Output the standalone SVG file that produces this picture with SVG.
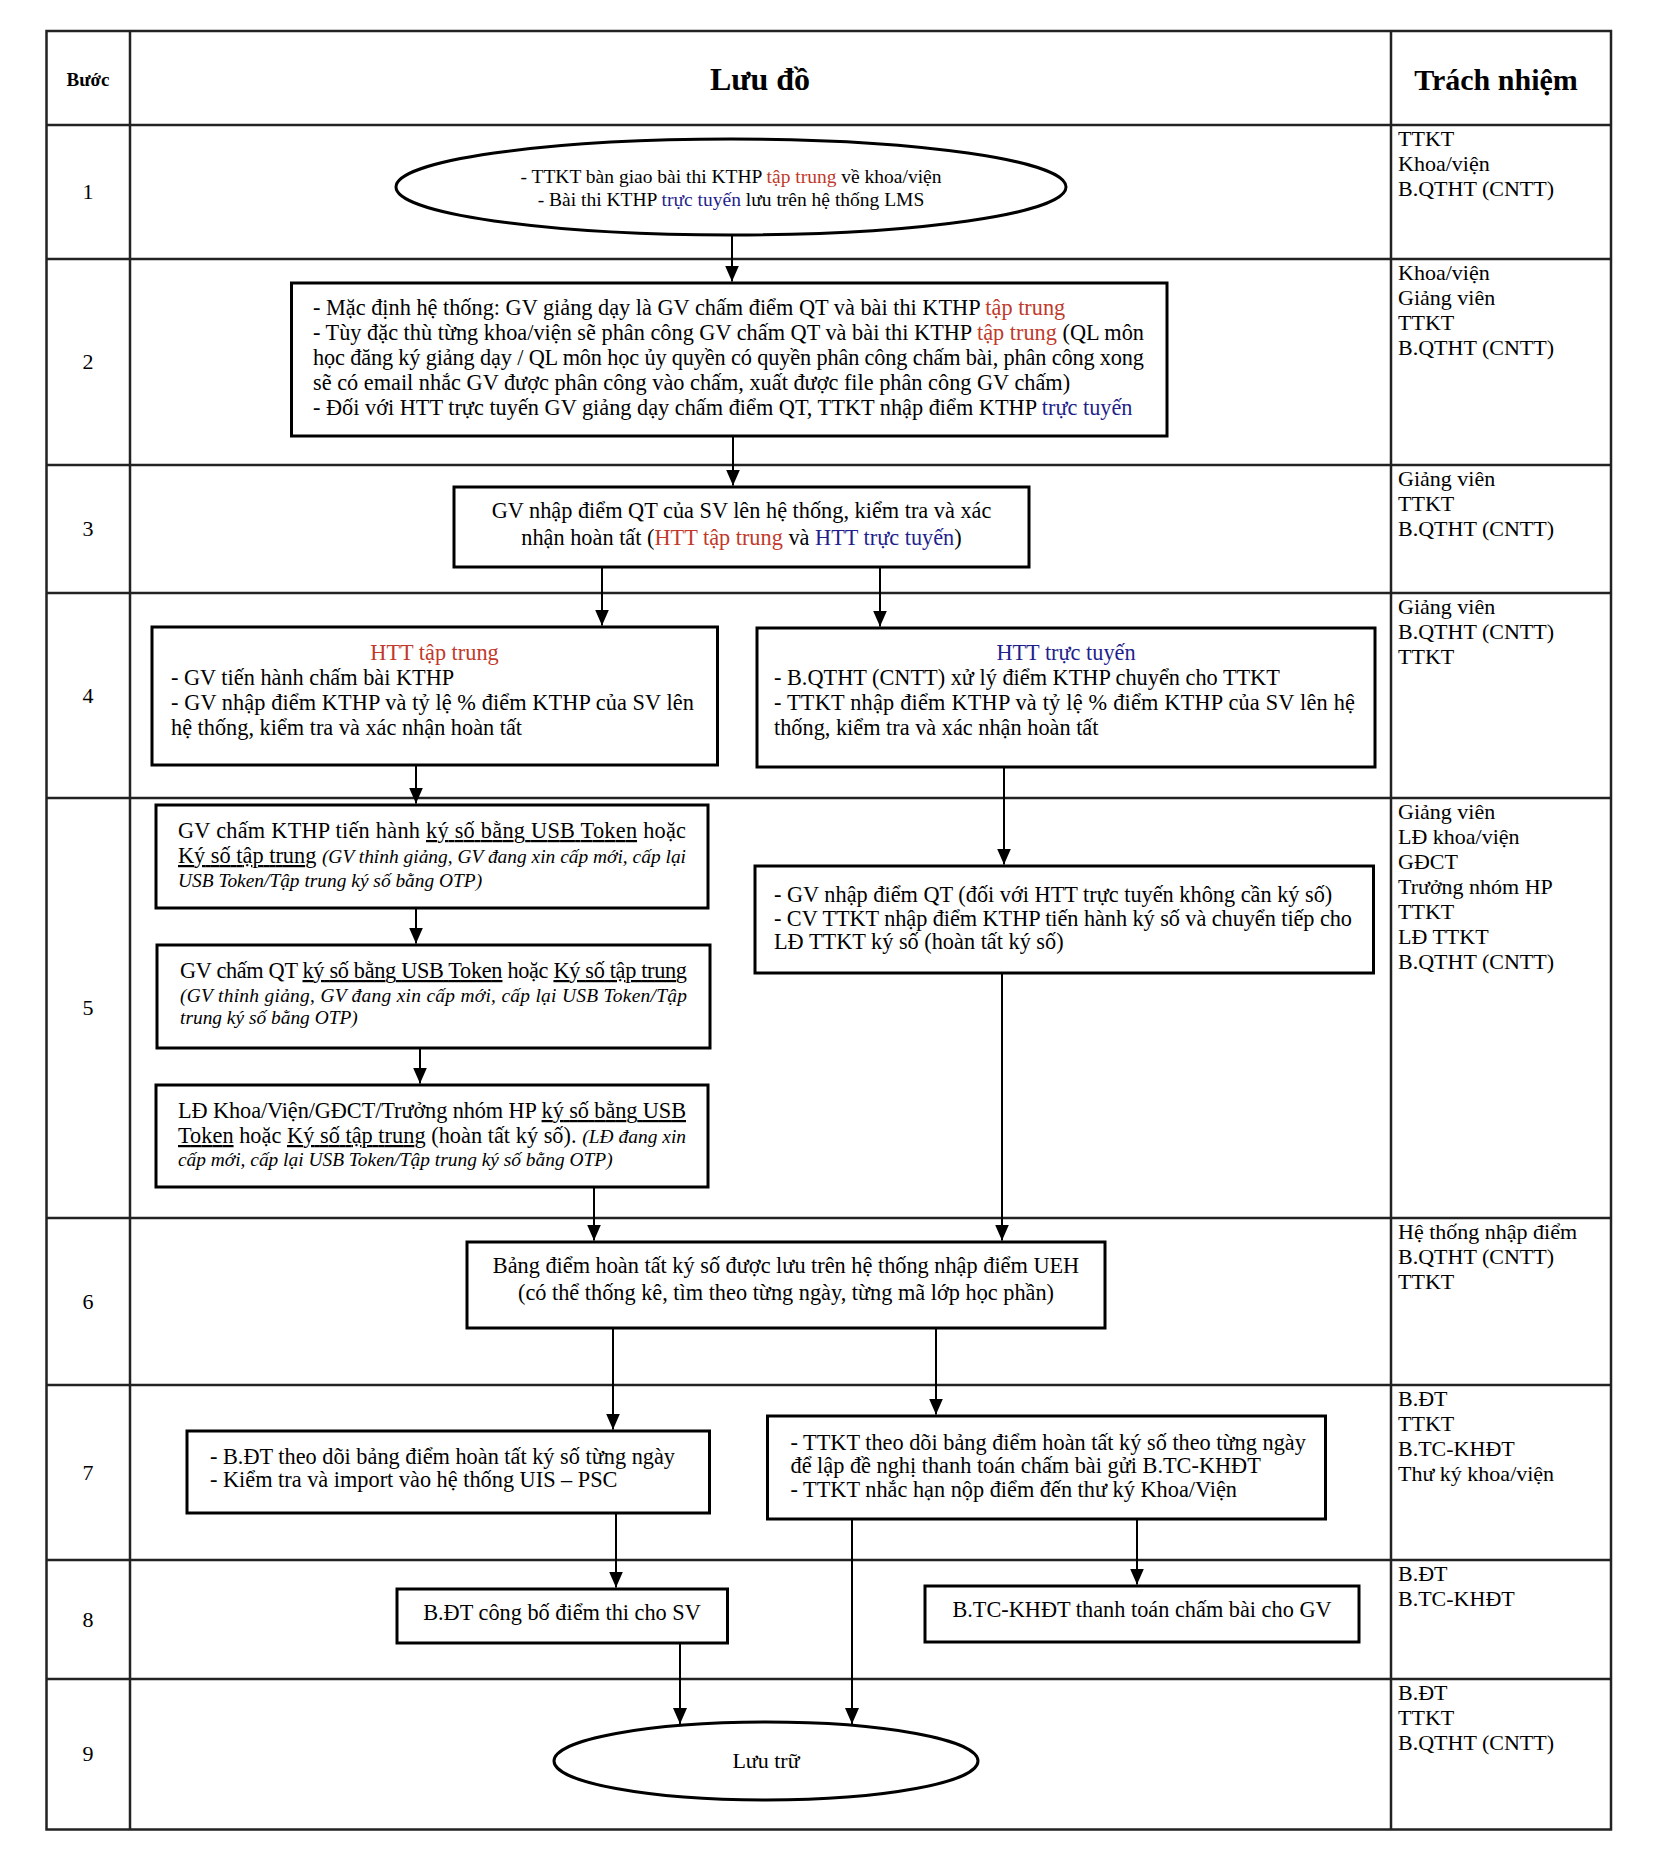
<svg xmlns="http://www.w3.org/2000/svg" width="1654" height="1868" viewBox="0 0 1654 1868">
<style>
.cell{fill:none;stroke:#222;stroke-width:2.5}
.box{fill:#fff;stroke:#000;stroke-width:3}
.t{font-family:"Liberation Serif","Times New Roman",serif;font-size:22.3px;fill:#000}
.r{font-size:22px}
.s{font-size:19.5px}
.c{text-anchor:middle}
.h{font-weight:bold}
.i{font-style:italic;font-size:19.4px}
.u{text-decoration:underline}
.red{fill:#c0392b}
.blue{fill:#1f1f8c}
.conn{stroke:#000;stroke-width:2;fill:none;marker-end:url(#arr)}
</style>
<defs>
<marker id="arr" markerUnits="userSpaceOnUse" markerWidth="16" markerHeight="16" refX="16" refY="7" orient="auto">
<path d="M0,0 L16,7 L0,14 z" fill="#000"/>
</marker>
</defs>
<rect width="1654" height="1868" fill="#fff"/>
<g id="table">
<rect class="cell" x="46.5" y="31" width="1564.5" height="1798.5"/>
<path class="cell" d="M130,31 V1829.5 M1391,31 V1829.5 M46.5,125 H1611 M46.5,259 H1611 M46.5,465 H1611 M46.5,593 H1611 M46.5,798 H1611 M46.5,1218 H1611 M46.5,1385 H1611 M46.5,1560 H1611 M46.5,1679 H1611"/>
<text class="t h c" x="88" y="86" style="font-size:19px">Bước</text>
<text class="t h c" x="760" y="90" style="font-size:32px">Lưu đồ</text>
<text class="t h c" x="1496" y="90" style="font-size:30px">Trách nhiệm</text>
<text class="t r c" x="88" y="199">1</text>
<text class="t r c" x="88" y="369">2</text>
<text class="t r c" x="88" y="536">3</text>
<text class="t r c" x="88" y="703">4</text>
<text class="t r c" x="88" y="1015">5</text>
<text class="t r c" x="88" y="1309">6</text>
<text class="t r c" x="88" y="1480">7</text>
<text class="t r c" x="88" y="1627">8</text>
<text class="t r c" x="88" y="1761">9</text>
<text class="t r" x="1398" y="146"><tspan x="1398">TTKT</tspan><tspan x="1398" dy="25">Khoa/viện</tspan><tspan x="1398" dy="25">B.QTHT (CNTT)</tspan></text>
<text class="t r" x="1398" y="280"><tspan x="1398">Khoa/viện</tspan><tspan x="1398" dy="25">Giảng viên</tspan><tspan x="1398" dy="25">TTKT</tspan><tspan x="1398" dy="25">B.QTHT (CNTT)</tspan></text>
<text class="t r" x="1398" y="486"><tspan x="1398">Giảng viên</tspan><tspan x="1398" dy="25">TTKT</tspan><tspan x="1398" dy="25">B.QTHT (CNTT)</tspan></text>
<text class="t r" x="1398" y="614"><tspan x="1398">Giảng viên</tspan><tspan x="1398" dy="25">B.QTHT (CNTT)</tspan><tspan x="1398" dy="25">TTKT</tspan></text>
<text class="t r" x="1398" y="819"><tspan x="1398">Giảng viên</tspan><tspan x="1398" dy="25">LĐ khoa/viện</tspan><tspan x="1398" dy="25">GĐCT</tspan><tspan x="1398" dy="25">Trưởng nhóm HP</tspan><tspan x="1398" dy="25">TTKT</tspan><tspan x="1398" dy="25">LĐ TTKT</tspan><tspan x="1398" dy="25">B.QTHT (CNTT)</tspan></text>
<text class="t r" x="1398" y="1239"><tspan x="1398">Hệ thống nhập điểm</tspan><tspan x="1398" dy="25">B.QTHT (CNTT)</tspan><tspan x="1398" dy="25">TTKT</tspan></text>
<text class="t r" x="1398" y="1406"><tspan x="1398">B.ĐT</tspan><tspan x="1398" dy="25">TTKT</tspan><tspan x="1398" dy="25">B.TC-KHĐT</tspan><tspan x="1398" dy="25">Thư ký khoa/viện</tspan></text>
<text class="t r" x="1398" y="1581"><tspan x="1398">B.ĐT</tspan><tspan x="1398" dy="25">B.TC-KHĐT</tspan></text>
<text class="t r" x="1398" y="1700"><tspan x="1398">B.ĐT</tspan><tspan x="1398" dy="25">TTKT</tspan><tspan x="1398" dy="25">B.QTHT (CNTT)</tspan></text>
</g>
<g id="connectors">
<path class="conn" d="M732,235 V281.5"/>
<path class="conn" d="M733,436 V485.5"/>
<path class="conn" d="M602,567 V625.5"/>
<path class="conn" d="M880,567 V626.5"/>
<path class="conn" d="M416,765 V803.5"/>
<path class="conn" d="M1004,767 V864.5"/>
<path class="conn" d="M416,908 V943.5"/>
<path class="conn" d="M420,1048 V1083.5"/>
<path class="conn" d="M594,1187 V1240.5"/>
<path class="conn" d="M1002,973 V1240.5"/>
<path class="conn" d="M613,1328 V1429.5"/>
<path class="conn" d="M936,1328 V1414.5"/>
<path class="conn" d="M616,1513 V1587.5"/>
<path class="conn" d="M1137,1519 V1584.5"/>
<path class="conn" d="M852,1519 V1724"/>
<path class="conn" d="M680,1643 V1724"/>
</g>
<g id="n1">
<ellipse class="box" cx="731" cy="187" rx="335" ry="48"/>
<text class="t s c" x="731" y="183">- TTKT bàn giao bài thi KTHP <tspan class="red">tập trung</tspan> về khoa/viện</text>
<text class="t s c" x="731" y="206">- Bài thi KTHP <tspan class="blue">trực tuyến</tspan> lưu trên hệ thống LMS</text>
</g>
<g id="n2">
<rect class="box" x="291.5" y="283" width="875.5" height="153"/>
<text class="t" x="313" y="315">- Mặc định hệ thống: GV giảng dạy là GV chấm điểm QT và bài thi KTHP <tspan class="red">tập trung</tspan></text>
<text class="t" x="313" y="340" textLength="831" lengthAdjust="spacing">- Tùy đặc thù từng khoa/viện sẽ phân công GV chấm QT và bài thi KTHP <tspan class="red">tập trung</tspan> (QL môn</text>
<text class="t" x="313" y="365" textLength="831" lengthAdjust="spacing">học đăng ký giảng dạy / QL môn học ủy quyền có quyền phân công chấm bài, phân công xong</text>
<text class="t" x="313" y="390">sẽ có email nhắc GV được phân công vào chấm, xuất được file phân công GV chấm)</text>
<text class="t" x="313" y="415">- Đối với HTT trực tuyến GV giảng dạy chấm điểm QT, TTKT nhập điểm KTHP <tspan class="blue">trực tuyến</tspan></text>
</g>
<g id="n3">
<rect class="box" x="454" y="487" width="575" height="80"/>
<text class="t c" x="741.5" y="518">GV nhập điểm QT của SV lên hệ thống, kiểm tra và xác</text>
<text class="t c" x="741.5" y="545">nhận hoàn tất (<tspan class="red">HTT tập trung</tspan> và <tspan class="blue">HTT trực tuyến</tspan>)</text>
</g>
<g id="n4a">
<rect class="box" x="152" y="627" width="565.5" height="138"/>
<text class="t c red" x="434.5" y="660">HTT tập trung</text>
<text class="t" x="171" y="685">- GV tiến hành chấm bài KTHP</text>
<text class="t" x="171" y="710" textLength="523" lengthAdjust="spacing">- GV nhập điểm KTHP và tỷ lệ % điểm KTHP của SV lên</text>
<text class="t" x="171" y="735">hệ thống, kiểm tra và xác nhận hoàn tất</text>
</g>
<g id="n4b">
<rect class="box" x="757" y="628" width="618" height="139"/>
<text class="t c blue" x="1066" y="660">HTT trực tuyến</text>
<text class="t" x="774" y="685">- B.QTHT (CNTT) xử lý điểm KTHP chuyển cho TTKT</text>
<text class="t" x="774" y="710" textLength="581" lengthAdjust="spacing">- TTKT nhập điểm KTHP và tỷ lệ % điểm KTHP của SV lên hệ</text>
<text class="t" x="774" y="735">thống, kiểm tra và xác nhận hoàn tất</text>
</g>
<g id="n5a">
<rect class="box" x="156" y="805" width="552" height="103"/>
<text class="t" x="178" y="838" textLength="508" lengthAdjust="spacing">GV chấm KTHP tiến hành <tspan class="u">ký số bằng USB Token</tspan> hoặc</text>
<text class="t" x="178" y="863" textLength="508" lengthAdjust="spacing"><tspan class="u">Ký số tập trung</tspan> <tspan class="i">(GV thỉnh giảng, GV đang xin cấp mới, cấp lại</tspan></text>
<text class="t i" x="178" y="887">USB Token/Tập trung ký số bằng OTP)</text>
</g>
<g id="n5b">
<rect class="box" x="157" y="945" width="553" height="103"/>
<text class="t" x="180" y="978" textLength="507" lengthAdjust="spacing">GV chấm QT <tspan class="u">ký số bằng USB Token</tspan> hoặc <tspan class="u">Ký số tập trung</tspan></text>
<text class="t i" x="180" y="1002" textLength="507" lengthAdjust="spacing">(GV thỉnh giảng, GV đang xin cấp mới, cấp lại USB Token/Tập</text>
<text class="t i" x="180" y="1024">trung ký số bằng OTP)</text>
</g>
<g id="n5c">
<rect class="box" x="156" y="1085" width="552" height="102"/>
<text class="t" x="178" y="1118" textLength="508" lengthAdjust="spacing">LĐ Khoa/Viện/GĐCT/Trưởng nhóm HP <tspan class="u">ký số bằng USB</tspan></text>
<text class="t" x="178" y="1143" textLength="508" lengthAdjust="spacing"><tspan class="u">Token</tspan> hoặc <tspan class="u">Ký số tập trung</tspan> (hoàn tất ký số). <tspan class="i">(LĐ đang xin</tspan></text>
<text class="t i" x="178" y="1166">cấp mới, cấp lại USB Token/Tập trung ký số bằng OTP)</text>
</g>
<g id="n5d">
<rect class="box" x="755" y="866" width="618.5" height="107"/>
<text class="t" x="774" y="902">- GV nhập điểm QT (đối với HTT trực tuyến không cần ký số)</text>
<text class="t" x="774" y="926" textLength="578" lengthAdjust="spacing">- CV TTKT nhập điểm KTHP tiến hành ký số và chuyển tiếp cho</text>
<text class="t" x="774" y="949">LĐ TTKT ký số (hoàn tất ký số)</text>
</g>
<g id="n6">
<rect class="box" x="467" y="1242" width="638" height="86"/>
<text class="t c" x="786" y="1273">Bảng điểm hoàn tất ký số được lưu trên hệ thống nhập điểm UEH</text>
<text class="t c" x="786" y="1300">(có thể thống kê, tìm theo từng ngày, từng mã lớp học phần)</text>
</g>
<g id="n7a">
<rect class="box" x="187" y="1431" width="522.5" height="82"/>
<text class="t" x="210" y="1464">- B.ĐT theo dõi bảng điểm hoàn tất ký số từng ngày</text>
<text class="t" x="210" y="1487">- Kiểm tra và import vào hệ thống UIS – PSC</text>
</g>
<g id="n7b">
<rect class="box" x="767.5" y="1416" width="558" height="103"/>
<text class="t" x="790.5" y="1450">- TTKT theo dõi bảng điểm hoàn tất ký số theo từng ngày</text>
<text class="t" x="790.5" y="1473">để lập đề nghị thanh toán chấm bài gửi B.TC-KHĐT</text>
<text class="t" x="790.5" y="1497">- TTKT nhắc hạn nộp điểm đến thư ký Khoa/Viện</text>
</g>
<g id="n8a">
<rect class="box" x="397" y="1589" width="330.5" height="54"/>
<text class="t c" x="562" y="1620">B.ĐT công bố điểm thi cho SV</text>
</g>
<g id="n8b">
<rect class="box" x="925" y="1586" width="434" height="56"/>
<text class="t c" x="1142" y="1617">B.TC-KHĐT thanh toán chấm bài cho GV</text>
</g>
<g id="n9">
<ellipse class="box" cx="766" cy="1761" rx="212" ry="39"/>
<text class="t r c" x="766" y="1768">Lưu trữ</text>
</g>
</svg>
